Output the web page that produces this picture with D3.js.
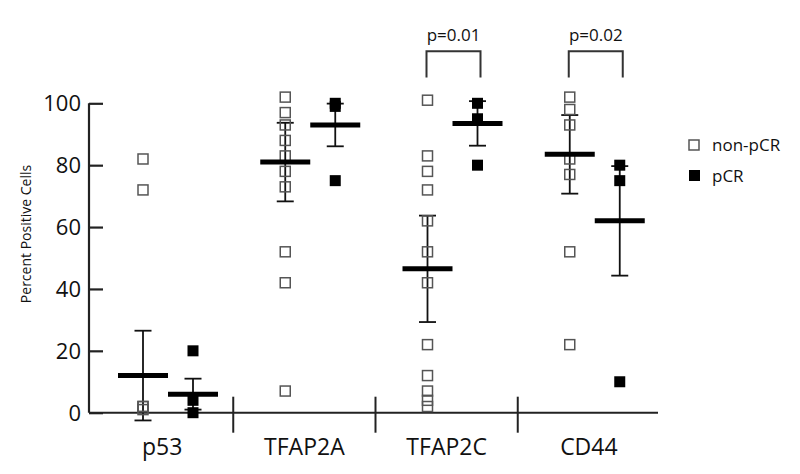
<!DOCTYPE html>
<html><head><meta charset="utf-8">
<script src="https://cdn.jsdelivr.net/npm/d3@7"></script>
<style>body{margin:0;background:#fff}svg{display:block}text{font-family:"Open Sans",sans-serif;fill:#111}</style>
</head><body><svg id="c" width="800" height="474"></svg>
<script>
const categories = ["p53","TFAP2A","TFAP2C","CD44"];
const groups = ["non-pCR","pCR"];
const yTicks = [0,20,40,60,80,100];
// individual values
const nonPCRValues = [
  [82, 72, 2, 2, 1],
  [102, 97, 93, 88, 83, 78, 73, 52, 42, 7],
  [101, 83, 78, 72, 62, 52, 42, 22, 12, 7, 4, 2],
  [102, 98, 93, 82, 77, 52, 22]
];
const pCRValues = [
  [20, 4, 0],
  [100, 99, 75],
  [100, 95, 80],
  [80, 75, 10]
];
const nonPCRMean = [12, 81, 46.5, 83.5];
const nonPCRSem  = [14.5, 12.7, 17.2, 12.7];
const pCRMean    = [6, 93, 93.5, 62];
const pCRSem     = [5, 6.9, 7.2, 17.7];
const comparisons = [{cat:"TFAP2C", label:"p=0.01"}, {cat:"CD44", label:"p=0.02"}];

const svg = d3.select("#c");
const x0 = d3.scaleBand().domain(categories).range([91, 660]).padding(0);
const x1 = d3.scalePoint().domain(groups).range([52, 102]);
const y = d3.scaleLinear().domain([0,100]).range([412.7, 103.3]);
const ax = 89;

// y axis
const yAxis = d3.axisRight(y).tickValues(yTicks).tickSize(14).tickFormat("");
const ga = svg.append("g").attr("transform",`translate(${ax},0)`).call(yAxis);
ga.select(".domain").attr("d",`M0,${y(100)}V${y(0)}`).attr("stroke","#222").attr("stroke-width",2.2);
ga.selectAll(".tick line").attr("stroke","#222").attr("stroke-width",2.2);
svg.selectAll(".ylab").data(yTicks).join("text")
  .attr("x", 81).attr("y", d=>y(d)).attr("dy","0.36em").attr("text-anchor","end")
  .style("font-size","22px").text(d=>d);
svg.append("text").attr("transform","translate(26,234) rotate(-90)")
  .attr("text-anchor","middle").attr("dy","0.35em").style("font-size","14px").text("Percent Positive Cells");

// x axis
svg.append("line").attr("x1",ax).attr("x2",658).attr("y1",y(0)).attr("y2",y(0))
  .attr("stroke","#222").attr("stroke-width",2);
svg.selectAll(".sep").data(categories.slice(1)).join("line")
  .attr("x1",d=>x0(d)).attr("x2",d=>x0(d)).attr("y1",y(0)-16).attr("y2",y(0)+20)
  .attr("stroke","#222").attr("stroke-width",2);
svg.selectAll(".xlab").data(categories).join("text")
  .attr("x",d=>x0(d)+x0.bandwidth()/2).attr("y",455).attr("text-anchor","middle")
  .style("font-size","23px").text(d=>d);

const gx = (cat,g)=>x0(cat)+x1(g);

// error bars
const stats = [];
categories.forEach((c,i)=>{
  stats.push({cat:c, g:"non-pCR", m:nonPCRMean[i], s:nonPCRSem[i]});
  stats.push({cat:c, g:"pCR", m:pCRMean[i], s:pCRSem[i]});
});
const eg = svg.append("g").attr("stroke","#111").attr("stroke-width",1.8);
stats.forEach(d=>{
  const cx = gx(d.cat,d.g);
  eg.append("line").attr("x1",cx).attr("x2",cx).attr("y1",y(d.m+d.s)).attr("y2",y(d.m-d.s));
  eg.append("line").attr("x1",cx-8.5).attr("x2",cx+8.5).attr("y1",y(d.m+d.s)).attr("y2",y(d.m+d.s));
  eg.append("line").attr("x1",cx-8.5).attr("x2",cx+8.5).attr("y1",y(d.m-d.s)).attr("y2",y(d.m-d.s));
});

// points
categories.forEach((c,i)=>{
  svg.append("g").selectAll("rect").data(nonPCRValues[i]).join("rect")
    .attr("x",gx(c,"non-pCR")-5).attr("y",d=>y(d)-5).attr("width",10).attr("height",10)
    .attr("fill","none").attr("stroke","#555").attr("stroke-width",1.5);
  svg.append("g").selectAll("rect").data(pCRValues[i]).join("rect")
    .attr("x",gx(c,"pCR")-5.5).attr("y",d=>y(d)-5.5).attr("width",11).attr("height",11)
    .attr("fill","#000");
});

// mean lines
svg.append("g").selectAll("line").data(stats).join("line")
  .attr("x1",d=>gx(d.cat,d.g)-25).attr("x2",d=>gx(d.cat,d.g)+25)
  .attr("y1",d=>y(d.m)).attr("y2",d=>y(d.m))
  .attr("stroke","#000").attr("stroke-width",5);

// significance brackets
comparisons.forEach(cp=>{
  const xa = gx(cp.cat,"non-pCR")-1, xb = gx(cp.cat,"pCR")+3;
  svg.append("path").attr("d",`M${xa},${y(108.3)}V${y(116.8)}H${xb}V${y(108.3)}`)
    .attr("fill","none").attr("stroke","#333").attr("stroke-width",2);
  svg.append("text").attr("x",(xa+xb)/2).attr("y",41).attr("text-anchor","middle")
    .style("font-size","17px").text(cp.label);
});

// legend
const lg = svg.append("g");
lg.append("rect").attr("x",689).attr("y",140).attr("width",10).attr("height",10)
  .attr("fill","none").attr("stroke","#555").attr("stroke-width",1.5);
lg.append("text").attr("x",712).attr("y",151).style("font-size","17px").text(groups[0]);
lg.append("rect").attr("x",689).attr("y",170).attr("width",11).attr("height",11).attr("fill","#000");
lg.append("text").attr("x",712).attr("y",182).style("font-size","17px").text(groups[1]);
</script></body></html>
